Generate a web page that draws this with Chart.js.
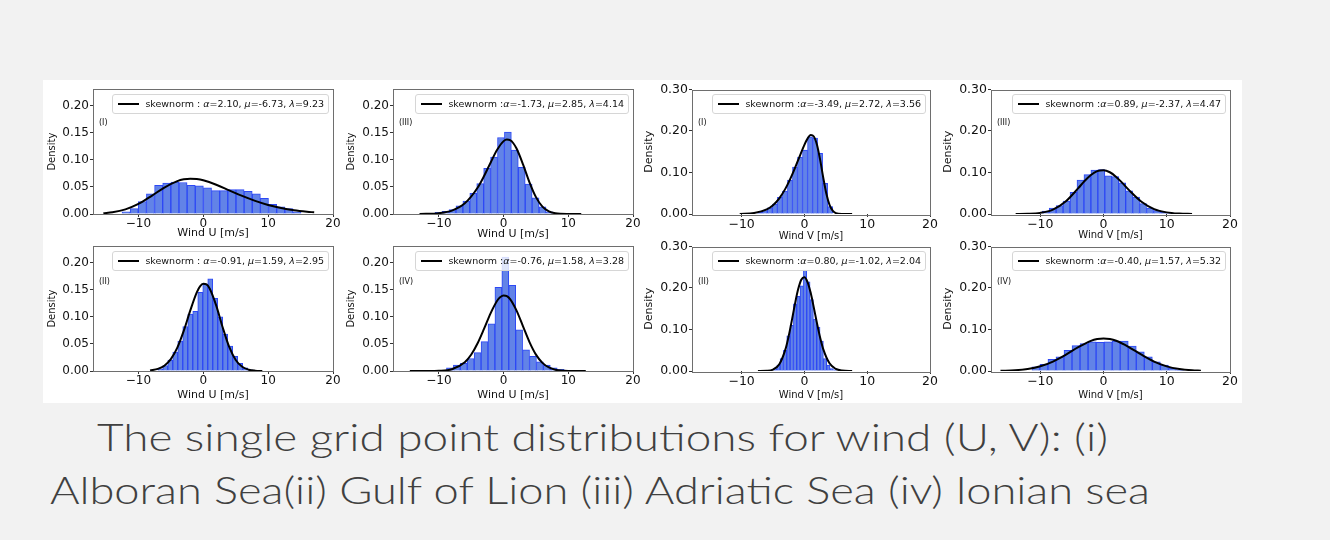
<!DOCTYPE html>
<html>
<head>
<meta charset="utf-8">
<script src="https://cdn.jsdelivr.net/npm/chart.js@4.4.1/dist/chart.umd.min.js"></script>
<style>
  html, body { margin: 0; padding: 0; }
  body { width: 1330px; height: 540px; background: #f2f2f2; position: relative; overflow: hidden; font-family: 'DejaVu Sans', sans-serif; }
  #sheet { position: absolute; left: 43px; top: 80px; width: 1199px; height: 323px; background: #fff; }
  canvas { position: absolute; }
  .legend { position: absolute; height: 18px; line-height: 18px; padding: 0 4px 0 5px;
            background: rgba(255,255,255,0.8); border: 1px solid #d6d6d6; border-radius: 3px;
            font-size: 9.5px; color: #111; white-space: pre; }
  .legend .swatch { display: inline-block; width: 21px; border-top: 2px solid #000; margin-right: 6px; vertical-align: middle; position: relative; top: -1px; }
  .tag { position: absolute; font-size: 8px; color: #111; }
  .caption { position: absolute; font-family: 'Lato', 'Open Sans', sans-serif; font-weight: 300; font-size: 37px;
             color: #404040; white-space: nowrap; line-height: 40px; transform-origin: 0 0; }
</style>
</head>
<body>
<div id="sheet"></div>
<div class="caption" id="cap1" style="left:97px; top:417px;">The single grid point distributions for wind (U, V): (i)</div>
<div class="caption" id="cap2" style="left:50px; top:470px;">Alboran Sea(ii) Gulf of Lion (iii) Adriatic Sea (iv) Ionian sea</div>
<script>
// tick values
const xTicks = [-10, 0, 10, 20];
const yTicksLow = [0, 0.05, 0.10, 0.15, 0.20];
const yTicksHigh = [0, 0.10, 0.20, 0.30];

// (I) Wind U
const p1BinX = [-11.90, -10.65, -9.39, -8.14, -6.88, -5.63, -4.37, -3.12, -1.86, -0.61, 0.65, 1.90, 3.16, 4.41, 5.67, 6.92, 8.18, 9.43, 10.69, 11.94, 13.20, 14.45];
const p1Dens = [0.004, 0.010, 0.023, 0.037, 0.053, 0.057, 0.059, 0.058, 0.053, 0.052, 0.048, 0.043, 0.043, 0.045, 0.045, 0.042, 0.037, 0.029, 0.018, 0.013, 0.010, 0.004];
const p1FitX = [-15.4, -14, -12, -10, -8, -6, -4, -3, -2, -1, 0, 2, 4, 6, 8, 10, 12, 14, 16, 17.1];
const p1FitY = [0.0014, 0.0031, 0.0085, 0.0185, 0.0331, 0.0488, 0.0607, 0.0639, 0.0651, 0.0644, 0.0621, 0.0540, 0.0436, 0.0333, 0.0242, 0.0167, 0.0110, 0.0069, 0.0042, 0.0031];

// (III) Wind U
const p2BinX = [-10.04, -8.97, -7.90, -6.83, -5.76, -4.69, -3.62, -2.55, -1.48, -0.41, 0.66, 1.73, 2.80, 3.87, 4.94, 6.01, 7.08];
const p2Dens = [0.003, 0.005, 0.008, 0.015, 0.024, 0.038, 0.056, 0.084, 0.105, 0.141, 0.151, 0.118, 0.086, 0.055, 0.030, 0.013, 0.004];
const p2FitX = [-13, -10, -8, -6, -4, -3, -2, -1, 0, 0.5, 1, 1.5, 2, 3, 4, 5, 6, 7, 8, 10, 12];
const p2FitY = [0.0001, 0.0016, 0.0062, 0.0196, 0.0488, 0.0705, 0.0950, 0.1183, 0.1343, 0.1373, 0.1360, 0.1304, 0.1206, 0.0915, 0.0584, 0.0311, 0.0136, 0.0048, 0.0014, 0.0001, 0.0];

// (I) Wind V
const p3BinX = [-7.1, -6.3, -5.5, -4.7, -3.9, -3.1, -2.3, -1.5, -0.7, 0.1, 0.9, 1.7, 2.5, 3.3, 4.1];
const p3Dens = [0.004, 0.008, 0.015, 0.024, 0.040, 0.055, 0.082, 0.113, 0.137, 0.154, 0.186, 0.183, 0.146, 0.074, 0.018];
const p3FitX = [-10.3, -8, -6, -5, -4, -3, -2, -1, 0, 0.5, 1, 1.5, 2, 2.5, 3, 3.5, 4, 4.5, 5, 6, 7.6];
const p3FitY = [0.0003, 0.0024, 0.0111, 0.0213, 0.0377, 0.0617, 0.0931, 0.1298, 0.1667, 0.1816, 0.1904, 0.1868, 0.1669, 0.1310, 0.0876, 0.0486, 0.0220, 0.0080, 0.0023, 0.0001, 0.0];

// (III) Wind V
const p4BinX = [-9.15, -8.05, -6.95, -5.85, -4.75, -3.65, -2.55, -1.45, -0.35, 0.75, 1.85, 2.95, 4.05, 5.15, 6.25, 7.35, 8.45, 9.55, 10.65];
const p4Dens = [0.007, 0.014, 0.020, 0.031, 0.052, 0.082, 0.095, 0.106, 0.107, 0.092, 0.090, 0.075, 0.056, 0.041, 0.025, 0.014, 0.008, 0.004, 0.002];
const p4FitX = [-13.9, -12, -10, -8, -6, -4, -3, -2, -1, 0, 1, 2, 3, 4, 6, 8, 10, 12, 14];
const p4FitY = [0.0001, 0.0005, 0.0027, 0.0106, 0.0301, 0.0622, 0.0795, 0.0941, 0.1034, 0.1055, 0.1006, 0.0894, 0.0745, 0.0581, 0.0295, 0.0118, 0.0039, 0.0010, 0.0002];

// (II) Wind U
const p5BinX = [-6.625, -5.855, -5.085, -4.315, -3.545, -2.775, -2.005, -1.235, -0.465, 0.305, 1.075, 1.845, 2.615, 3.385, 4.155, 4.925, 5.695, 6.465, 7.235];
const p5Dens = [0.004, 0.010, 0.020, 0.035, 0.055, 0.082, 0.105, 0.110, 0.145, 0.160, 0.170, 0.134, 0.100, 0.068, 0.046, 0.027, 0.014, 0.006, 0.002];
const p5FitX = [-8.2, -7, -6, -5, -4, -3, -2, -1, -0.5, 0, 0.5, 1, 2, 3, 4, 5, 6, 7, 8, 9.1];
const p5FitY = [0.0009, 0.0039, 0.0098, 0.0218, 0.0430, 0.0743, 0.1117, 0.1449, 0.1559, 0.1607, 0.1595, 0.1517, 0.1206, 0.0801, 0.0443, 0.0203, 0.0077, 0.0024, 0.0006, 0.0001];

// (IV) Wind U
const p6BinX = [-8.30, -7.23, -6.16, -5.09, -4.02, -2.95, -1.88, -0.81, 0.26, 1.33, 2.40, 3.47, 4.54, 5.61, 6.68, 7.75, 8.82];
const p6Dens = [0.006, 0.011, 0.014, 0.023, 0.034, 0.054, 0.087, 0.154, 0.210, 0.158, 0.076, 0.039, 0.027, 0.017, 0.011, 0.006, 0.003];
const p6FitX = [-14.5, -12, -10, -8, -6, -5, -4, -3, -2, -1, -0.5, 0, 0.5, 1, 2, 3, 4, 5, 6, 7, 8, 10, 12.7];
const p6FitY = [0.0, 0.0001, 0.0005, 0.0033, 0.0162, 0.0304, 0.0516, 0.0784, 0.1067, 0.1294, 0.1362, 0.1393, 0.1380, 0.1325, 0.1113, 0.0823, 0.0533, 0.0302, 0.0150, 0.0065, 0.0024, 0.0002, 0.0];

// (II) Wind V
const p7BinX = [-4.665, -4.135, -3.605, -3.075, -2.545, -2.015, -1.485, -0.955, -0.425, 0.105, 0.635, 1.165, 1.695, 2.225, 2.755, 3.285, 3.815, 4.345, 4.875];
const p7Dens = [0.006, 0.014, 0.030, 0.050, 0.085, 0.110, 0.162, 0.180, 0.205, 0.243, 0.215, 0.172, 0.125, 0.105, 0.072, 0.030, 0.014, 0.006, 0.003];
const p7FitX = [-7.4, -6, -5, -4, -3, -2.5, -2, -1.5, -1, -0.5, 0, 0.5, 1, 1.5, 2, 2.5, 3, 4, 5, 6, 7.6];
const p7FitY = [0.0, 0.0005, 0.0035, 0.0163, 0.0533, 0.0845, 0.1221, 0.1618, 0.1967, 0.2200, 0.2262, 0.2144, 0.1883, 0.1528, 0.1153, 0.0808, 0.0528, 0.0185, 0.0050, 0.0011, 0.0001];

// (IV) Wind V
const p8BinX = [-10.70, -9.43, -8.16, -6.89, -5.62, -4.35, -3.08, -1.81, -0.54, 0.73, 2.00, 3.27, 4.54, 5.81, 7.08, 8.35, 9.62, 10.89, 12.16];
const p8Dens = [0.010, 0.016, 0.028, 0.034, 0.050, 0.061, 0.066, 0.070, 0.069, 0.070, 0.072, 0.072, 0.060, 0.046, 0.034, 0.022, 0.014, 0.007, 0.003];
const p8FitX = [-16.3, -14, -12, -10, -8, -6, -4, -2, -1, 0, 1, 2, 4, 6, 8, 10, 12, 14, 15.4];
const p8FitY = [0.0005, 0.0018, 0.0049, 0.0114, 0.0228, 0.0389, 0.0574, 0.0726, 0.0770, 0.0786, 0.0771, 0.0728, 0.0578, 0.0392, 0.0227, 0.0112, 0.0048, 0.0017, 0.0008];

const legendTexts = [
  'skewnorm : α=2.10, μ=-6.73, λ=9.23',
  'skewnorm :α=-1.73, μ=2.85, λ=4.14',
  'skewnorm :α=-3.49, μ=2.72, λ=3.56',
  'skewnorm :α=0.89, μ=-2.37, λ=4.47',
  'skewnorm : α=-0.91, μ=1.59, λ=2.95',
  'skewnorm :α=-0.76, μ=1.58, λ=3.28',
  'skewnorm :α=0.80, μ=-1.02, λ=2.04',
  'skewnorm :α=-0.40, μ=1.57, λ=5.32'
];
const tags = ['(I)', '(III)', '(I)', '(III)', '(II)', '(IV)', '(II)', '(IV)'];
const xLabels = ['Wind U [m/s]', 'Wind U [m/s]', 'Wind V [m/s]', 'Wind V [m/s]', 'Wind U [m/s]', 'Wind U [m/s]', 'Wind V [m/s]', 'Wind V [m/s]'];

Chart.defaults.font.family = "'DejaVu Sans', sans-serif";
Chart.defaults.color = '#111';

const AXW = 52, PADT = 8, PADR = 10, PLOTH = 125;

// layout of each panel (plot area in page pixels)
const panels = [
  { left: 93,  top: 89,  w: 240, xmin: -17.0, ymax: 0.23, yt: yTicksLow,  axh: 26, xfs: 11, yfs: 10, ypad: 5, tfs: 12, binX: p1BinX, dens: p1Dens, fitX: p1FitX, fitY: p1FitY },
  { left: 393, top: 89,  w: 240, xmin: -17.1, ymax: 0.23, yt: yTicksLow,  axh: 27, xfs: 11, yfs: 10, ypad: 4, tfs: 12, binX: p2BinX, dens: p2Dens, fitX: p2FitX, fitY: p2FitY },
  { left: 692, top: 89,  w: 238, xmin: -17.9, ymax: 0.30, yt: yTicksHigh, axh: 28, xfs: 10, yfs: 11, ypad: 3, tfs: 12.5, binX: p3BinX, dens: p3Dens, fitX: p3FitX, fitY: p3FitY },
  { left: 991, top: 89,  w: 239, xmin: -17.8, ymax: 0.30, yt: yTicksHigh, axh: 27, xfs: 10, yfs: 11, ypad: 3, tfs: 12.5, binX: p4BinX, dens: p4Dens, fitX: p4FitX, fitY: p4FitY },
  { left: 93,  top: 246, w: 240, xmin: -17.0, ymax: 0.23, yt: yTicksLow,  axh: 31, xfs: 11, yfs: 10, ypad: 5, tfs: 12, binX: p5BinX, dens: p5Dens, fitX: p5FitX, fitY: p5FitY },
  { left: 393, top: 246, w: 240, xmin: -17.1, ymax: 0.23, yt: yTicksLow,  axh: 31, xfs: 11, yfs: 10, ypad: 4, tfs: 12, binX: p6BinX, dens: p6Dens, fitX: p6FitX, fitY: p6FitY },
  { left: 692, top: 246, w: 238, xmin: -17.9, ymax: 0.30, yt: yTicksHigh, axh: 30, xfs: 10, yfs: 11, ypad: 3, tfs: 12.5, binX: p7BinX, dens: p7Dens, fitX: p7FitX, fitY: p7FitY },
  { left: 991, top: 246, w: 239, xmin: -17.8, ymax: 0.30, yt: yTicksHigh, axh: 30, xfs: 10, yfs: 11, ypad: 3, tfs: 12.5, binX: p8BinX, dens: p8Dens, fitX: p8FitX, fitY: p8FitY }
];

const frame = {
  id: 'frame',
  afterDraw(chart) {
    const a = chart.chartArea, ctx = chart.ctx;
    ctx.save();
    ctx.strokeStyle = '#6e6e6e';
    ctx.lineWidth = 1;
    ctx.strokeRect(Math.round(a.left) + 0.5, Math.round(a.top) + 0.5, Math.round(a.right - a.left), Math.round(a.bottom - a.top));
    ctx.restore();
  }
};

function fmtX(v) {
  return v < 0 ? '\u2212' + Math.abs(v) : String(v);
}

panels.forEach((p, i) => {
  const cv = document.createElement('canvas');
  const cw = AXW + p.w + PADR, ch = PADT + PLOTH + p.axh;
  cv.width = cw; cv.height = ch;
  cv.style.left = (p.left - AXW) + 'px';
  cv.style.top = (p.top - PADT) + 'px';
  document.body.appendChild(cv);

  new Chart(cv, {
    type: 'bar',
    data: {
      datasets: [
        {
          type: 'line',
          data: p.fitX.map((x, k) => ({ x: x, y: p.fitY[k] })),
          borderColor: '#000',
          borderWidth: 2,
          pointRadius: 0,
          cubicInterpolationMode: 'monotone',
          fill: false,
          order: 0
        },
        {
          type: 'bar',
          data: p.binX.map((x, k) => ({ x: x, y: p.dens[k] })),
          backgroundColor: 'rgb(98,131,231)',
          borderColor: 'rgb(45,72,245)',
          borderWidth: 1,
          barPercentage: 1,
          categoryPercentage: 1,
          order: 1
        }
      ]
    },
    options: {
      responsive: false,
      animation: false,
      devicePixelRatio: 1,
      layout: { padding: { top: PADT, right: PADR, left: 0, bottom: 0 } },
      plugins: { legend: { display: false }, tooltip: { enabled: false } },
      scales: {
        x: {
          type: 'linear',
          min: p.xmin,
          max: 20,
          offset: false,
          afterFit: s => { s.height = p.axh; },
          afterBuildTicks: s => { s.ticks = xTicks.map(v => ({ value: v })); },
          ticks: { callback: fmtX, font: { size: p.tfs }, color: '#111', padding: 0, maxRotation: 0 },
          grid: { offset: false, drawOnChartArea: false, drawTicks: true, tickLength: 3, color: '#333' },
          border: { display: false },
          title: { display: true, text: xLabels[i], font: { size: p.xfs }, color: '#111', padding: { top: 0, bottom: 0 } }
        },
        y: {
          min: 0,
          max: p.ymax,
          afterFit: s => { s.width = AXW; },
          afterBuildTicks: s => { s.ticks = p.yt.map(v => ({ value: v })); },
          ticks: { callback: v => v.toFixed(2), font: { size: p.tfs }, color: '#111', padding: 1 },
          grid: { drawOnChartArea: false, drawTicks: true, tickLength: 3, color: '#333' },
          border: { display: false },
          title: { display: true, text: 'Density', font: { size: p.yfs }, color: '#111', padding: { top: p.ypad, bottom: 0 } }
        }
      }
    },
    plugins: [frame]
  });

  // legend box
  const lg = document.createElement('div');
  lg.className = 'legend';
  lg.style.right = (1330 - (p.left + p.w - 4)) + 'px';
  lg.style.top = (p.top + 5) + 'px';
  const sw = document.createElement('span');
  sw.className = 'swatch';
  lg.appendChild(sw);
  legendTexts[i].split(/([αμλ])/).forEach(part => {
    if (!part) return;
    if ('αμλ'.includes(part)) {
      const it = document.createElement('i');
      it.textContent = part;
      lg.appendChild(it);
    } else {
      lg.appendChild(document.createTextNode(part));
    }
  });
  document.body.appendChild(lg);

  // panel tag
  const tg = document.createElement('div');
  tg.className = 'tag';
  tg.textContent = tags[i];
  tg.style.left = (p.left + 6) + 'px';
  tg.style.top = (p.top + (i < 4 ? 29 : 31)) + 'px';
  document.body.appendChild(tg);
});

// fit caption lines to their widths in the original slide
function fitCaption(id, target) {
  const el = document.getElementById(id);
  const w = el.getBoundingClientRect().width;
  el.style.transform = 'scaleX(' + (target / w) + ')';
}
fitCaption('cap1', 1011);
fitCaption('cap2', 1100);
</script>
</body>
</html>
